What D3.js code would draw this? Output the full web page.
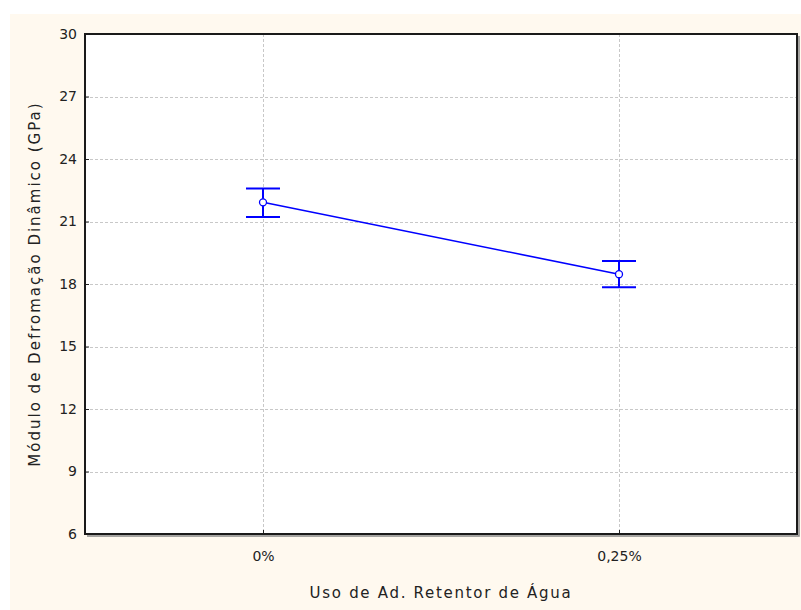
<!DOCTYPE html>
<meta charset="utf-8">
<html>
  <head>
    <script src="https://cdn.jsdelivr.net/npm/d3@7"></script>
    <style>
      body { margin: 0; background: #fff; }
      svg { display: block; }
      .tick text { font-family: "DejaVu Sans", sans-serif; }
    </style>
  </head>
  <body>
    <div id="chart"></div>
    <script>
      // data
      const categories = ["0%", "0,25%"];
      const means = [21.92, 18.47];
      const errLow = [21.22, 17.84];
      const errHigh = [22.59, 19.10];
      const yTicks = [6, 9, 12, 15, 18, 21, 24, 27, 30];

      const width = 801, height = 610;
      const margin = {top: 34, right: 4, bottom: 76, left: 85};
      const blue = "#0000ff";

      const svg = d3.select("#chart").append("svg")
        .attr("width", width)
        .attr("height", height);

      // cream page background
      svg.append("rect")
        .attr("x", 10).attr("y", 14)
        .attr("width", width - 10).attr("height", height - 14)
        .attr("fill", "#fff9ef");

      const x = d3.scalePoint()
        .domain(categories)
        .range([margin.left, width - margin.right])
        .padding(0.5);

      const y = d3.scaleLinear()
        .domain([6, 30])
        .range([height - margin.bottom, margin.top]);

      const plotW = width - margin.right - margin.left;
      const plotH = height - margin.bottom - margin.top;

      svg.append("rect")
        .attr("x", margin.left).attr("y", margin.top)
        .attr("width", plotW).attr("height", plotH)
        .attr("fill", "#fff");

      // grid lines
      const grid = svg.append("g")
        .attr("stroke", "#c8c8c8")
        .attr("stroke-dasharray", "3,2")
        .attr("stroke-width", 1);
      grid.selectAll(".hgrid")
        .data(yTicks.slice(1, -1))
        .join("line")
        .attr("x1", margin.left).attr("x2", width - margin.right)
        .attr("y1", d => Math.round(y(d)) + 0.5).attr("y2", d => Math.round(y(d)) + 0.5);
      grid.selectAll(".vgrid")
        .data(categories)
        .join("line")
        .attr("x1", d => Math.round(x(d)) + 0.5).attr("x2", d => Math.round(x(d)) + 0.5)
        .attr("y1", margin.top).attr("y2", height - margin.bottom);

      // axes
      const yAxis = d3.axisLeft(y).tickValues(yTicks).tickSize(-4).tickPadding(8);
      svg.append("g")
        .attr("transform", `translate(${margin.left},0)`)
        .call(yAxis)
        .call(g => g.select(".domain").remove())
        .call(g => g.selectAll(".tick line").attr("stroke", "#222"))
        .call(g => g.selectAll(".tick text").attr("font-size", 14).attr("fill", "#222"));

      const xAxis = d3.axisBottom(x).tickSize(-4).tickPadding(17);
      svg.append("g")
        .attr("transform", `translate(0,${height - margin.bottom})`)
        .call(xAxis)
        .call(g => g.select(".domain").remove())
        .call(g => g.selectAll(".tick line").attr("stroke", "#222"))
        .call(g => g.selectAll(".tick text").attr("font-size", 14).attr("fill", "#222"));

      // frame with small shadow on right and bottom
      svg.append("path")
        .attr("d", `M${margin.left + 2},${height - margin.bottom + 2}H${width - margin.right + 2}V${margin.top + 2}`)
        .attr("fill", "none").attr("stroke", "#888").attr("stroke-width", 1.5);
      svg.append("rect")
        .attr("x", margin.left).attr("y", margin.top)
        .attr("width", plotW).attr("height", plotH)
        .attr("fill", "none").attr("stroke", "#1a1a1a").attr("stroke-width", 2);

      // mean line
      const pts = categories.map((c, i) => ({c, m: means[i], lo: errLow[i], hi: errHigh[i]}));
      svg.append("path")
        .datum(pts)
        .attr("fill", "none")
        .attr("stroke", blue)
        .attr("stroke-width", 1.6)
        .attr("d", d3.line().x(d => x(d.c)).y(d => y(d.m)));

      // error bars
      const capW = 17;
      const eb = svg.append("g").attr("stroke", blue).attr("stroke-width", 2);
      eb.selectAll(".stem").data(pts).join("line")
        .attr("x1", d => x(d.c)).attr("x2", d => x(d.c))
        .attr("y1", d => y(d.lo)).attr("y2", d => y(d.hi));
      eb.selectAll(".capHi").data(pts).join("line")
        .attr("x1", d => x(d.c) - capW).attr("x2", d => x(d.c) + capW)
        .attr("y1", d => y(d.hi)).attr("y2", d => y(d.hi));
      eb.selectAll(".capLo").data(pts).join("line")
        .attr("x1", d => x(d.c) - capW).attr("x2", d => x(d.c) + capW)
        .attr("y1", d => y(d.lo)).attr("y2", d => y(d.lo));

      svg.selectAll(".pt").data(pts).join("circle")
        .attr("cx", d => x(d.c)).attr("cy", d => y(d.m))
        .attr("r", 3.5)
        .attr("fill", "#fff").attr("stroke", blue).attr("stroke-width", 1.3);

      // axis titles
      svg.append("text")
        .attr("x", margin.left + plotW / 2)
        .attr("y", 598)
        .attr("text-anchor", "middle")
        .attr("font-family", "DejaVu Sans, sans-serif")
        .attr("font-size", 15)
        .attr("letter-spacing", 1.7)
        .attr("fill", "#222")
        .text("Uso de Ad. Retentor de Água");

      svg.append("text")
        .attr("transform", `translate(40,${margin.top + plotH / 2}) rotate(-90)`)
        .attr("text-anchor", "middle")
        .attr("font-family", "DejaVu Sans, sans-serif")
        .attr("font-size", 15)
        .attr("letter-spacing", 2)
        .attr("fill", "#222")
        .text("Módulo de Defromação Dinâmico (GPa)");
    </script>
  </body>
</html>
